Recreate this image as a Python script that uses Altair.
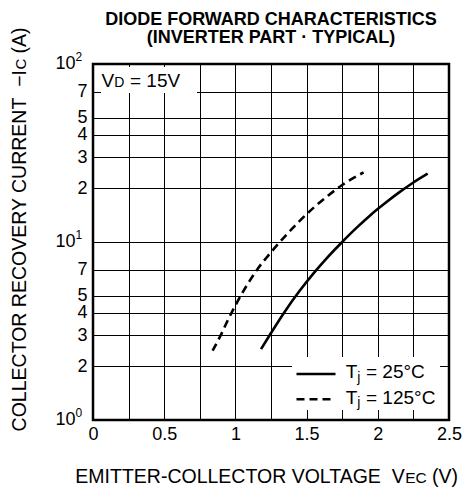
import altair as alt
import pandas as pd

FONT = "Liberation Sans"

# 25 degC (solid) curve
v25 = [1.18, 1.25, 1.35, 1.45, 1.55, 1.65, 1.75, 1.85, 1.95, 2.05, 2.15, 2.25, 2.35]
i25 = [2.50, 3.08, 4.10, 5.30, 6.68, 8.25, 10.0, 12.0, 14.2, 16.5, 18.99, 21.6, 24.2]
# 125 degC (dashed) curve
v125 = [0.84, 0.90, 0.95, 1.00, 1.05, 1.10, 1.15, 1.25, 1.35, 1.45, 1.55, 1.65, 1.75, 1.90]
i125 = [2.45, 3.03, 3.68, 4.40, 5.20, 6.05, 6.95, 8.75, 10.8, 13.1, 15.6, 18.2, 20.9, 24.6]

x_grid = [0, 0.25, 0.5, 0.75, 1.0, 1.25, 1.5, 1.75, 2.0, 2.25, 2.5]
y_grid = [1, 2, 3, 4, 5, 7, 10, 20, 30, 40, 50, 70, 100]
decades = [1, 10, 100]
decade_base = ["10", "10", "10"]
decade_exp = ["0", "1", "2"]

title_lines = ["DIODE FORWARD CHARACTERISTICS", "(INVERTER PART · TYPICAL)"]

df25 = pd.DataFrame({"v": v25, "i": i25})
df125 = pd.DataFrame({"v": v125, "i": i125})
dfdec = pd.DataFrame({"i": decades, "base": decade_base, "exp": decade_exp})
one = pd.DataFrame({"k": [0]})

x_enc = alt.X(
    "v:Q",
    scale=alt.Scale(domain=[0, 2.5], nice=False, zero=False),
    axis=alt.Axis(
        values=x_grid, grid=True, ticks=False, domain=False, title=None,
        labelExpr="datum.value % 0.5 == 0 ? '' + datum.value : ''",
        labelFont=FONT, labelFontSize=18, labelColor="black", labelPadding=5,
        labelFlush=False, labelOverlap=False,
        gridColor="black", gridWidth=1, gridOpacity=1,
    ),
)
y_enc = alt.Y(
    "i:Q",
    scale=alt.Scale(type="log", domain=[1, 100], nice=False),
    axis=alt.Axis(
        values=y_grid, grid=True, ticks=False, domain=False, title=None,
        labelExpr="(datum.value == 1 || datum.value == 10 || datum.value == 100) ? '' : (datum.value >= 10 ? '' + (datum.value / 10) : '' + datum.value)",
        labelFont=FONT, labelFontSize=18, labelColor="black", labelPadding=6,
        labelOverlap=False, labelFlush=False,
        gridColor="black", gridWidth=1, gridOpacity=1,
    ),
)

line25 = alt.Chart(df25).mark_line(color="black", strokeWidth=2.6, interpolate="monotone").encode(x=x_enc, y=y_enc)
line125 = alt.Chart(df125).mark_line(color="black", strokeWidth=2.6, strokeDash=[8, 5], interpolate="monotone").encode(x=x_enc, y=y_enc)

# white boxes behind annotation and legend
box_vd = alt.Chart(one).mark_rect(color="white").encode(
    x=alt.value(8), x2=alt.value(104), y=alt.value(3), y2=alt.value(29))
box_leg = alt.Chart(one).mark_rect(color="white").encode(
    x=alt.value(199), x2=alt.value(347), y=alt.value(293), y2=alt.value(346))


def txt(t, x, y, size=19, align="left", baseline="alphabetic", angle=0, weight="normal"):
    kw = dict(text=t, align=align, baseline=baseline, fontSize=size, font=FONT,
              color="black", fontWeight=weight)
    if angle:
        kw["angle"] = angle
    return alt.Chart(one).mark_text(**kw).encode(x=alt.value(x), y=alt.value(y))


# title
ttl = [
    txt(title_lines[0], 178, -39.5, 18, align="center", weight="bold"),
    txt(title_lines[1], 178, -21.5, 18, align="center", weight="bold"),
]

# V_D = 15V annotation
vd = [
    txt("V", 8.5, 22.7, 19),
    txt("D", 21.2, 22.7, 14),
    txt("= 15V", 37.0, 22.7, 19),
]

# legend
leg = [
    alt.Chart(one).mark_rule(color="black", strokeWidth=2.6).encode(
        x=alt.value(203.5), x2=alt.value(242.5), y=alt.value(310)),
    alt.Chart(one).mark_rule(color="black", strokeWidth=2.6, strokeDash=[8, 5]).encode(
        x=alt.value(203.5), x2=alt.value(242.5), y=alt.value(335.3)),
    txt("T", 252.7, 314.3, 19),
    txt("j", 264.3, 317.5, 14),
    txt("= 25°C", 273.0, 314.3, 19),
    txt("T", 252.7, 339.6, 19),
    txt("j", 264.3, 342.8, 14),
    txt("= 125°C", 273.0, 339.6, 19),
]

# decade tick labels with superscripts
dec_base = alt.Chart(dfdec).mark_text(align="right", baseline="middle", fontSize=18, font=FONT, color="black").encode(
    x=alt.value(-17.5), y=y_enc, text="base:N")
dec_exp = alt.Chart(dfdec).mark_text(align="left", baseline="middle", fontSize=12, font=FONT, color="black", dy=-7).encode(
    x=alt.value(-17.5), y=y_enc, text="exp:N")

# axis titles (with small-size subscripts)
xt = [
    txt("EMITTER-COLLECTOR VOLTAGE\u00a0\u00a0V", 311.7, 418.5, 19.5, align="right"),
    txt("EC", 312.2, 418.5, 15.5),
    txt("(V)", 339.0, 418.5, 19.5),
]
yt = [
    txt("COLLECTOR RECOVERY CURRENT\u00a0\u00a0\u2212I", -67.3, 6.0, 19.5, align="right", angle=270),
    txt("C", -67.3, 5.5, 15, angle=270),
    txt("(A)", -67.3, -10.5, 19.5, angle=270),
]

chart = alt.layer(
    box_vd, box_leg, line25, line125, dec_base, dec_exp, *ttl, *vd, *leg, *xt, *yt
).properties(
    width=356,
    height=356,
    padding={"left": 85, "top": 56, "right": 13, "bottom": 68},
    autosize=alt.AutoSizeParams(type="none"),
).configure_view(stroke="black", strokeWidth=2.5)

chart.save("out.html", embed_options={"renderer": "svg", "actions": False})
